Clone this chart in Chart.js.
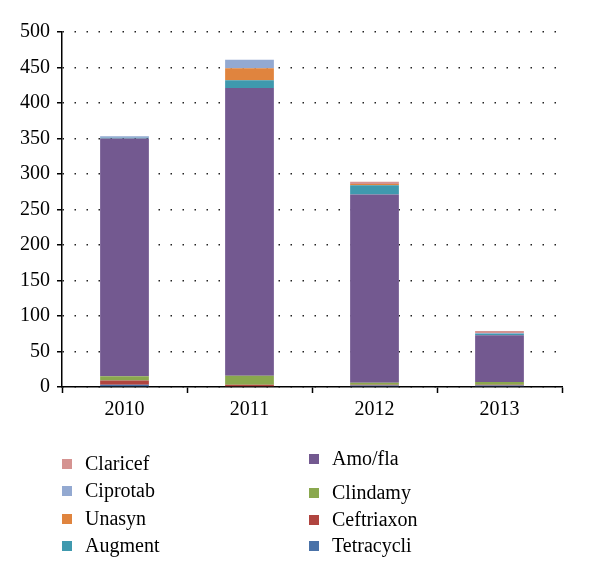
<!DOCTYPE html>
<html>
<head>
<meta charset="utf-8">
<script src="https://cdn.jsdelivr.net/npm/chart.js@4"></script>
<style>
  html, body { margin: 0; padding: 0; background: #fff; }
  #wrap { width: 600px; height: 580px; }
</style>
</head>
<body>
<div id="wrap"><canvas id="chart" width="600" height="580"></canvas></div>
<script>
const years = ["2010", "2011", "2012", "2013"];

// stacked from bottom to top
const tetracycli = [3, 0, 2, 2];
const ceftriaxon = [6, 3, 1, 1];
const clindamy   = [6, 13, 3, 4];
const amofla     = [335, 405, 265, 66];
const augment    = [1, 11, 13, 2];
const unasyn     = [0, 17, 2, 0];
const ciprotab   = [2, 12, 0, 1];
const claricef   = [0, 0, 3, 3];

const yTicks = [0, 50, 100, 150, 200, 250, 300, 350, 400, 450, 500];

const seriesNames = ["Tetracycli", "Ceftriaxon", "Clindamy", "Amo/fla", "Augment", "Unasyn", "Ciprotab", "Claricef"];
const seriesValues = [tetracycli, ceftriaxon, clindamy, amofla, augment, unasyn, ciprotab, claricef];
const colors = ["#4a72a8", "#b0443f", "#8aa84e", "#735990", "#3f99ae", "#e0843e", "#93a9d1", "#d59391"];

const FONT = "'Liberation Serif', 'DejaVu Serif', serif";

// legend: two columns, left col top-down, right col top-down
const legendLeft  = ["Claricef", "Ciprotab", "Unasyn", "Augment"];
const legendRight = ["Amo/fla", "Clindamy", "Ceftriaxon", "Tetracycli"];

const legendPlugin = {
    id: "twoColLegend",
    afterDraw(chart) {
        const ctx = chart.ctx;
        ctx.save();
        ctx.font = "20px " + FONT;
        ctx.textBaseline = "middle";
        const leftRows = [464, 491, 519, 546];
        const rightRows = [459, 493, 520, 546];
        const draw = (name, x, y) => {
            const i = seriesNames.indexOf(name);
            ctx.fillStyle = colors[i];
            ctx.fillRect(x, y - 5, 10, 10);
            ctx.fillStyle = "#000";
            ctx.fillText(name, x + 23, y + 1);
        };
        legendLeft.forEach((n, i) => draw(n, 62, leftRows[i]));
        legendRight.forEach((n, i) => draw(n, 309, rightRows[i]));
        ctx.restore();
    }
};

const datasets = seriesValues.map((vals, i) => ({
    label: seriesNames[i],
    data: vals,
    backgroundColor: colors[i],
    borderWidth: 0,
    categoryPercentage: 1,
    barPercentage: 0.39,
    stack: "s"
}));

new Chart(document.getElementById("chart"), {
    type: "bar",
    data: { labels: years, datasets: datasets },
    plugins: [legendPlugin],
    options: {
        responsive: false,
        animation: false,
        layout: { padding: { top: 32, right: 38, bottom: 0, left: 0 } },
        plugins: { legend: { display: false }, tooltip: { enabled: false } },
        scales: {
            x: {
                stacked: true,
                afterFit(scale) { scale.height = 193; },
                grid: {
                    offset: true,
                    drawOnChartArea: false,
                    drawTicks: true,
                    tickLength: 6,
                    tickColor: "#000",
                    tickWidth: 1.5
                },
                border: { display: true, color: "#000", width: 1.5 },
                ticks: { color: "#000", font: { family: FONT, size: 20 }, padding: 5 }
            },
            y: {
                stacked: true,
                min: 0,
                max: 500,
                afterFit(scale) { scale.width = 62; },
                afterBuildTicks(scale) { scale.ticks = yTicks.map(v => ({ value: v })); },
                grid: {
                    color: "#222",
                    lineWidth: 1.5,
                    drawTicks: true,
                    tickLength: 5,
                    tickColor: "#000",
                    tickWidth: 1.5,
                    tickBorderDash: [1, 0]
                },
                border: { display: true, color: "#000", width: 1.5, dash: [1.5, 10.5] },
                ticks: { color: "#000", font: { family: FONT, size: 20 }, padding: 7 }
            }
        }
    }
});
</script>
</body>
</html>
